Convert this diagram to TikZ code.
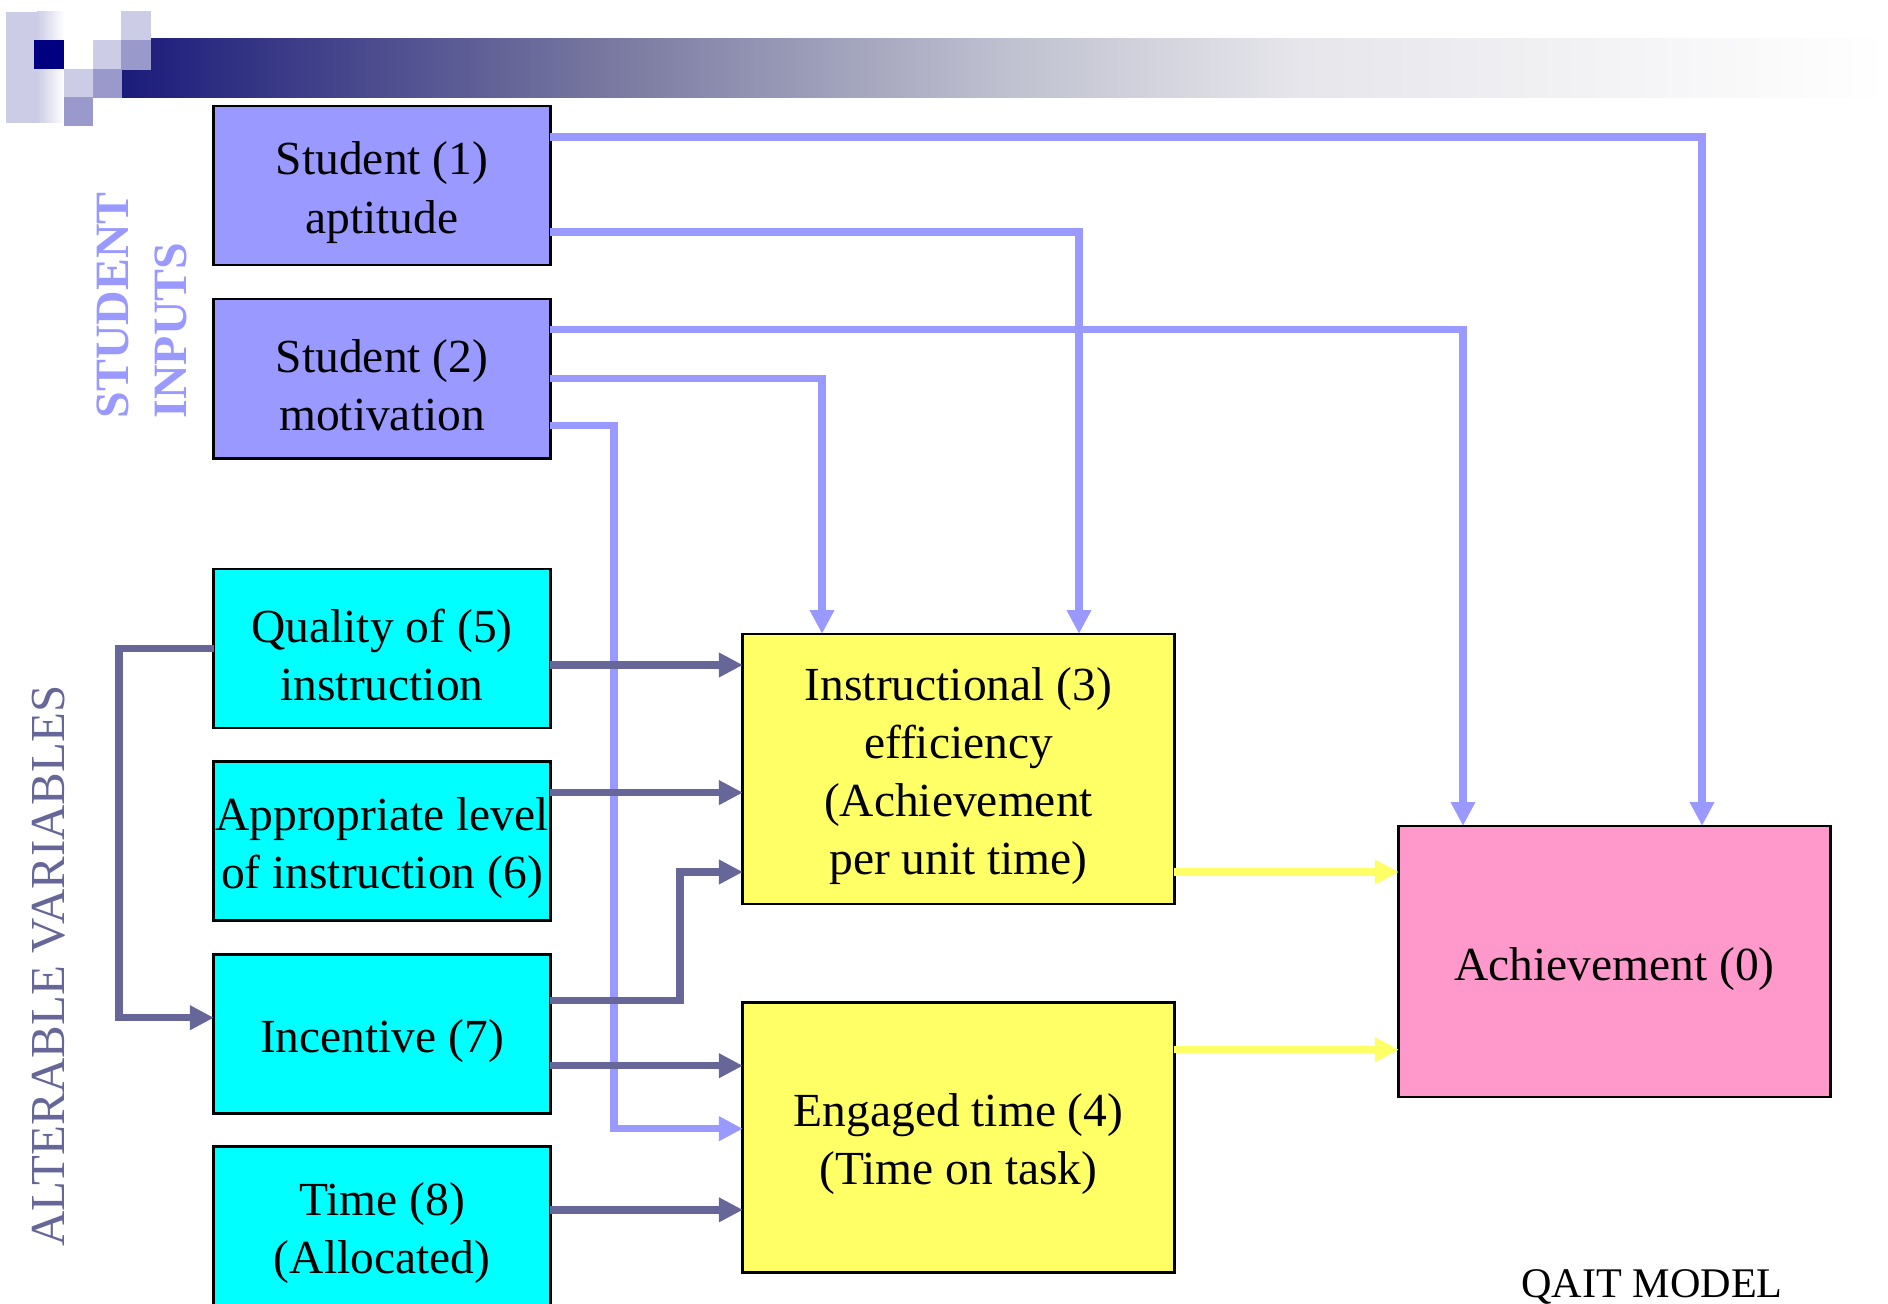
\documentclass[tikz,border=0pt]{standalone}
\usepackage{fontspec}
\setmainfont{Liberation Serif}
\usetikzlibrary{calc,arrows.meta,positioning}

\definecolor{studblue}{HTML}{9999FF}
\definecolor{altslate}{HTML}{666699}
\definecolor{altcyan}{HTML}{00FFFF}
\definecolor{effyellow}{HTML}{FFFF66}
\definecolor{achpink}{HTML}{FF99CC}
\definecolor{decnavy}{HTML}{000080}
\definecolor{declight}{HTML}{CCCCE6}
\definecolor{decmid}{HTML}{9999CC}
\definecolor{barA}{HTML}{1B1B7B}
\definecolor{barB}{HTML}{7777A0}
\definecolor{barC}{HTML}{C0C1D0}
\definecolor{barD}{HTML}{E6E6EB}

% extra room above the first line of a box text
\newcommand{\topgap}{\rule{0pt}{13.4pt}}

\begin{document}
\begin{tikzpicture}[x=0.01cm,y=-0.01cm,>={Triangle[length=6.8pt,width=6.6pt]},
    every node/.style={font=\fontsize{13.5}{16.5}\selectfont}]
  % Styles
  \tikzset{box/.style={draw=black,line width=0.8pt,inner sep=0pt,outer sep=0pt,align=center,
                       minimum width=3.36cm,minimum height=1.59cm},
           studbox/.style={box,fill=studblue},
           altbox/.style={box,fill=altcyan},
           effbox/.style={box,fill=effyellow,minimum width=4.31cm,minimum height=2.70cm},
           achbox/.style={box,fill=achpink,minimum width=4.31cm,minimum height=2.71cm},
           studline/.style={->,line width=2.1pt,studblue},
           altline/.style={->,line width=2.1pt,altslate},
           effline/.style={->,line width=2.1pt,effyellow}}

  \clip (0,0) rectangle (1888,1304);

  % Title bar (gradient strip and squares)
  \shade[left color=barA,right color=barB] (122,39) rectangle (601,98);
  \shade[left color=barB,right color=barC] (600,39) rectangle (1011,98);
  \shade[left color=barC,right color=barD] (1010,39) rectangle (1301,98);
  \shade[left color=barD,right color=white] (1300,39) rectangle (1888,98);
  \fill[declight] (6,12) rectangle (38,123);
  \shade[left color=declight,right color=white] (37,12) rectangle (64,123);
  \fill[decnavy] (34,40) rectangle (64,69);
  \fill[declight] (64,69) rectangle (93,97);
  \fill[declight] (93,40) rectangle (121,69);
  \fill[declight] (121,11) rectangle (151,40);
  \fill[decmid] (64,97) rectangle (93,126);
  \fill[decmid] (93,69) rectangle (122,98);
  \fill[decmid] (121,40) rectangle (151,70);

  % Boxes
  \node[studbox] (s1) at (382,185.5) {\topgap Student (1)\\aptitude};
  \node[studbox,below=0.34cm of s1] (s2) {\topgap Student (2)\\motivation};
  \node[altbox] (q5) at (382,648.5) {\topgap Quality of (5)\\instruction};
  \node[altbox,below=0.335cm of q5] (a6) {\topgap Appropriate level\\of instruction (6)};
  \node[altbox,below=0.335cm of a6] (i7) {\topgap Incentive (7)};
  \node[altbox,below=0.335cm of i7] (t8) {\topgap Time (8)\\(Allocated)};
  \node[effbox] (e3) at (958.5,769) {\topgap Instructional (3)\\efficiency\\(Achievement\\per unit time)};
  \node[effbox,below=0.98cm of e3] (g4) {\topgap Engaged time (4)\\(Time on task)};
  \node[achbox] (ach) at (1614.5,961.5) {\topgap Achievement (0)};

  % Side labels and title
  \node[rotate=90,anchor=west,align=left,inner sep=0pt,text=studblue,
        font=\fontsize{13.6}{16.5}\selectfont\bfseries] (stin) at (142,419) {STUDENT\\INPUTS};
  \node[rotate=90,inner sep=0pt,text=altslate,font=\fontsize{13.9}{16.5}\selectfont] (altvar) at (49,966) {ALTERABLE VARIABLES};
  \node[anchor=base,font=\fontsize{12}{14}\selectfont] (qait) at (1652,1297) {QAIT MODEL};

  % Student inputs
  \draw[studline] ($(s1.east)+(0,-48.5)$) -| ($(ach.north)+(87.5,0)$);
  \draw[studline] ($(s1.east)+(0,46.5)$) -| ($(e3.north)+(120.5,0)$);
  \draw[studline] ($(s2.east)+(0,-49)$) -| ($(ach.north)+(-151.5,0)$);
  \draw[studline] (s2.east) -| ($(e3.north)+(-136.5,0)$);
  \draw[studline] ($(s2.east)+(0,47)$) -- ++(64,0) |- ($(g4.west)+(0,-8.5)$);

  % Alterable variables
  \coordinate (q5o) at ($(q5.east)+(0,16.5)$);
  \coordinate (a6o) at ($(a6.east)+(0,-48.5)$);
  \coordinate (i7o) at ($(i7.east)+(0,32)$);
  \coordinate (t8o) at ($(t8.east)+(0,-16.5)$);
  \draw[altline] (q5o) -- (q5o -| e3.west);
  \draw[altline] (a6o) -- (a6o -| e3.west);
  \draw[altline] ($(i7.east)+(0,-33)$) -- ++(130,0) |- ($(e3.west)+(0,103)$);
  \draw[altline] (i7o) -- (i7o -| g4.west);
  \draw[altline] (t8o) -- (t8o -| g4.west);
  \draw[altline] (q5.west) -- ++(-95,0) |- ($(i7.west)+(0,-16)$);

  % Efficiency and time into achievement
  \coordinate (e3o) at ($(e3.east)+(0,103)$);
  \coordinate (g4o) at ($(g4.east)+(0,-87.5)$);
  \draw[effline] (e3o) -- (e3o -| ach.west);
  \draw[effline] (g4o) -- (g4o -| ach.west);
\end{tikzpicture}
\end{document}
